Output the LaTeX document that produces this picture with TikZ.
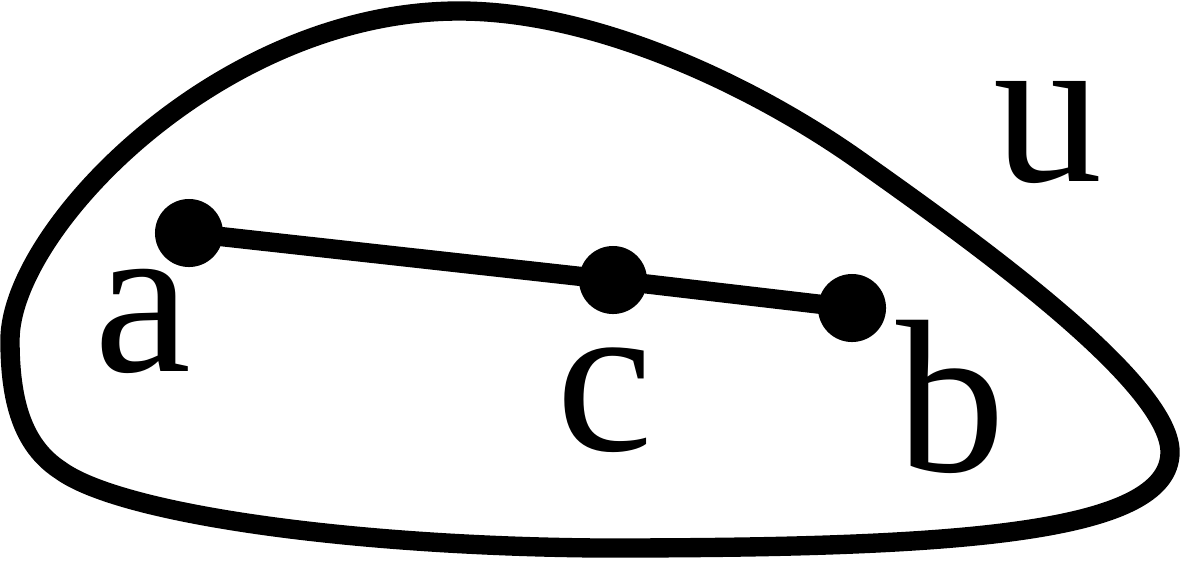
\documentclass[tikz,border=0pt]{standalone}
\usepackage{fontspec}
\setmainfont{Liberation Serif}
\usetikzlibrary{positioning}

\begin{document}
\begin{tikzpicture}[
    x=0.01cm, y=-0.01cm,
    dot/.style={circle, fill=black, inner sep=0pt, minimum size=0.68cm},
    lbl/.style={inner sep=0pt, font=\fontsize{62}{62}\selectfont}
  ]

    \useasboundingbox (0,0) rectangle (1180,560);

    % Outline
    \draw[line width=5.5pt, line join=round]
        (459,11) .. controls (600,11) and (760,90) .. (860,161)
        .. controls (960,232) and (1170,380) .. (1170,452)
        .. controls (1170,535) and (950,548) .. (600,548)
        .. controls (350,546) and (120,514) .. (60,470)
        .. controls (22,445) and (10,400) .. (10,340)
        .. controls (10,230) and (220,11) .. (459,11) -- cycle;

    % Points
    \node[dot] (a) at (189,233) {};
    \node[dot] (c) at (613,280) {};
    \node[dot] (b) at (852,308) {};

    \draw[line width=5.5pt] (a.center) -- (c.center) -- (b.center);

    % Labels
    \node[lbl] (alabel) at (143,321) {a};
    \node[lbl] (clabel) at (605,400) {c};
    \node[lbl] (blabel) at (951,397) {b};
    \node[lbl] (ulabel) at (1048,133) {u};

\end{tikzpicture}
\end{document}
